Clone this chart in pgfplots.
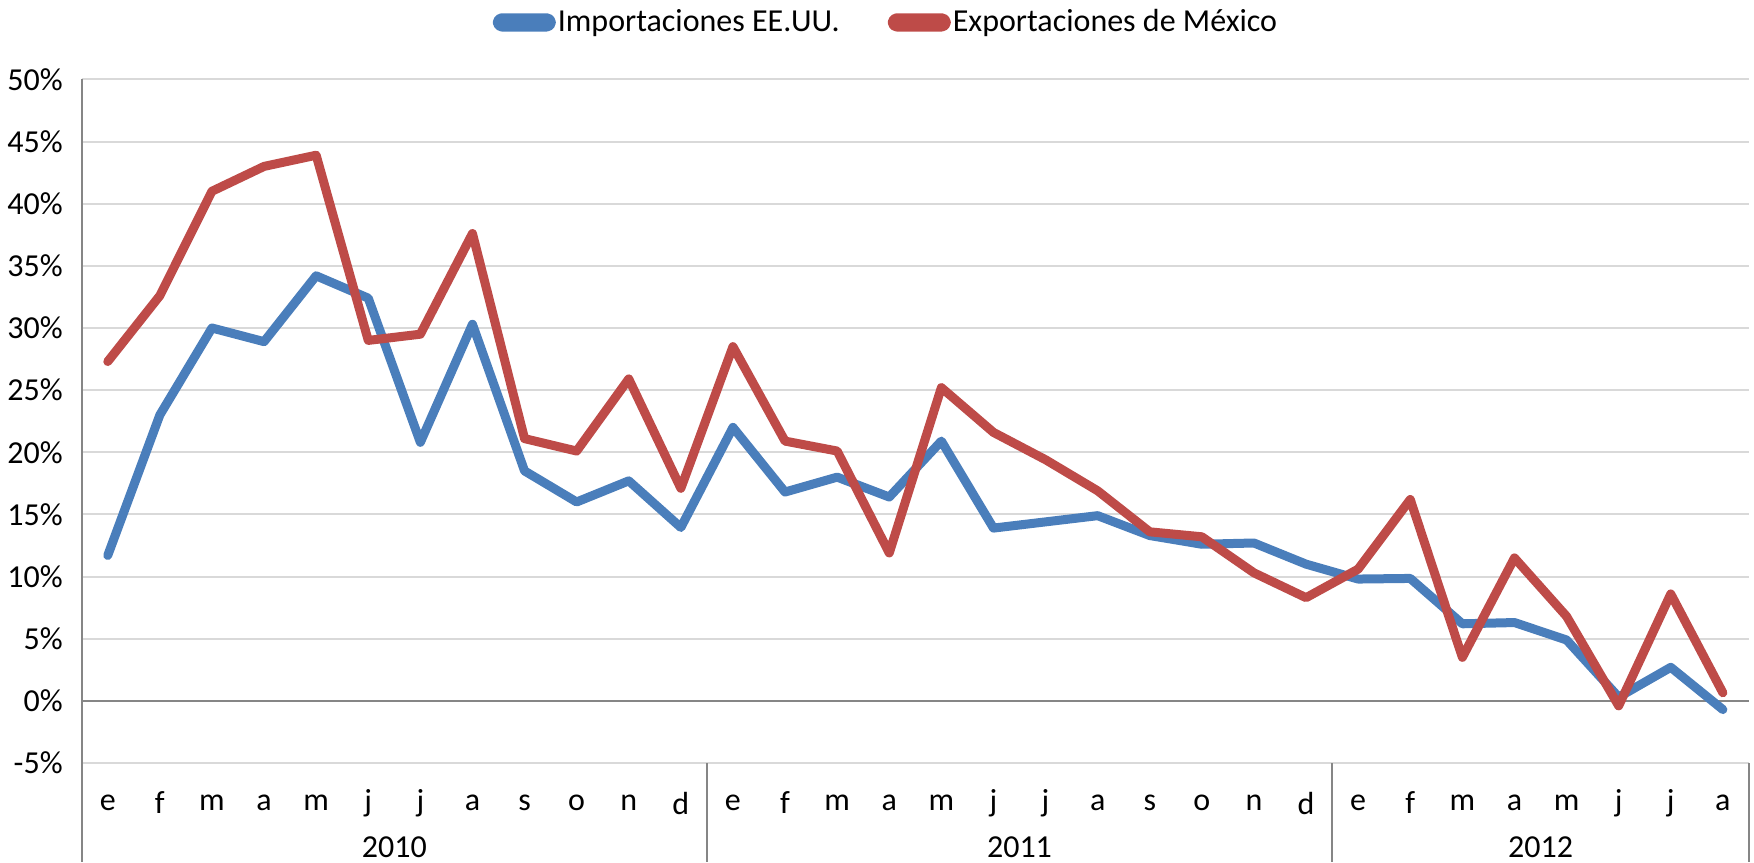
\documentclass[border=0pt]{standalone}
\usepackage{pgfplots}
\pgfplotsset{compat=1.18}
\usepackage{fontspec}
\setmainfont{Carlito}
\definecolor{cblue}{HTML}{4A7EBB}
\definecolor{cred}{HTML}{BE4B48}
\definecolor{gridc}{HTML}{D9D9D9}
\definecolor{axc}{HTML}{868686}
\begin{document}
\fontsize{16}{19}\selectfont
\begin{tikzpicture}
\path[use as bounding box] (-40.85pt,-49.5pt) rectangle (836.15pt,381.5pt);
\begin{axis}[
  at={(0,0)}, anchor=south west,
  scale only axis,
  width=833.6pt, height=341.8pt,
  xmin=0, xmax=32, ymin=-5, ymax=50,
  ytick={-5,0,...,50},
  yticklabel={\pgfmathprintnumber{\tick}\%},
  /pgf/number format/assume math mode=true,
  xtick={0.5,1.5,...,31.5},
  xticklabels={e,f,m,a,m,j,j,a,s,o,n,d,e,f,m,a,m,j,j,a,s,o,n,d,e,f,m,a,m,j,j,a},
  xticklabel style={anchor=center, yshift=-20pt},
  yticklabel style={anchor=east, xshift=-4pt},
  major tick length=0pt,
  ymajorgrids, grid style={gridc, line width=1pt},
  axis x line*=bottom, axis y line*=left,
  x axis line style={gridc, line width=1pt, -},
  y axis line style={axc, line width=1pt, -},
  clip=false,
  legend columns=2,
  legend style={draw=none, fill=none, at={(0.4824,1)}, anchor=center, yshift=28.5pt,
    /tikz/every even column/.append style={column sep=23pt},
    nodes={inner xsep=1pt},
    font=\fontsize{16}{19}\selectfont, inner sep=0pt},
  legend cell align=left,
  legend image code/.code={\fill[#1, rounded corners=2.2pt] (0pt,-2.3pt) rectangle (27pt,2.3pt);},
]
\draw[axc, line width=1pt] (axis cs:0,0) -- (axis cs:32,0);
\addplot[cblue, line width=4.5pt, line join=round, line cap=round] coordinates {
(0.5,11.7)(1.5,23.0)(2.5,30.0)(3.5,28.9)(4.5,34.2)(5.5,32.4)(6.5,20.8)(7.5,30.3)
(8.5,18.5)(9.5,16.0)(10.5,17.7)(11.5,13.95)(12.5,22.0)(13.5,16.8)(14.5,18.0)(15.5,16.4)
(16.5,20.9)(17.5,13.9)(18.5,14.4)(19.5,14.9)(20.5,13.3)(21.5,12.6)(22.5,12.7)(23.5,11.0)
(24.5,9.8)(25.5,9.85)(26.5,6.2)(27.5,6.3)(28.5,4.9)(29.5,0.3)(30.5,2.7)(31.5,-0.7)};
\addlegendentry{Importaciones EE.UU.}
\addplot[cred, line width=4.5pt, line join=round, line cap=round] coordinates {
(0.5,27.3)(1.5,32.6)(2.5,41.0)(3.5,43.0)(4.5,43.9)(5.5,29.0)(6.5,29.5)(7.5,37.6)
(8.5,21.1)(9.5,20.1)(10.5,25.9)(11.5,17.1)(12.5,28.5)(13.5,20.9)(14.5,20.1)(15.5,11.9)
(16.5,25.2)(17.5,21.6)(18.5,19.4)(19.5,16.9)(20.5,13.6)(21.5,13.2)(22.5,10.3)(23.5,8.3)
(24.5,10.6)(25.5,16.2)(26.5,3.5)(27.5,11.5)(28.5,6.8)(29.5,-0.4)(30.5,8.6)(31.5,0.65)};
\addlegendentry{Exportaciones de México}
\draw[axc, line width=1pt] (axis cs:0,-5) -- ([yshift=-49.5pt]axis cs:0,-5);
\draw[axc, line width=1pt] (axis cs:12,-5) -- ([yshift=-49.5pt]axis cs:12,-5);
\draw[axc, line width=1pt] (axis cs:24,-5) -- ([yshift=-49.5pt]axis cs:24,-5);
\draw[axc, line width=1pt] (axis cs:32,-5) -- ([yshift=-49.5pt]axis cs:32,-5);
\node[anchor=center] at ([yshift=-42pt]axis cs:6,-5) {2010};
\node[anchor=center] at ([yshift=-42pt]axis cs:18,-5) {2011};
\node[anchor=center] at ([yshift=-42pt]axis cs:28,-5) {2012};
\end{axis}
\end{tikzpicture}
\end{document}
